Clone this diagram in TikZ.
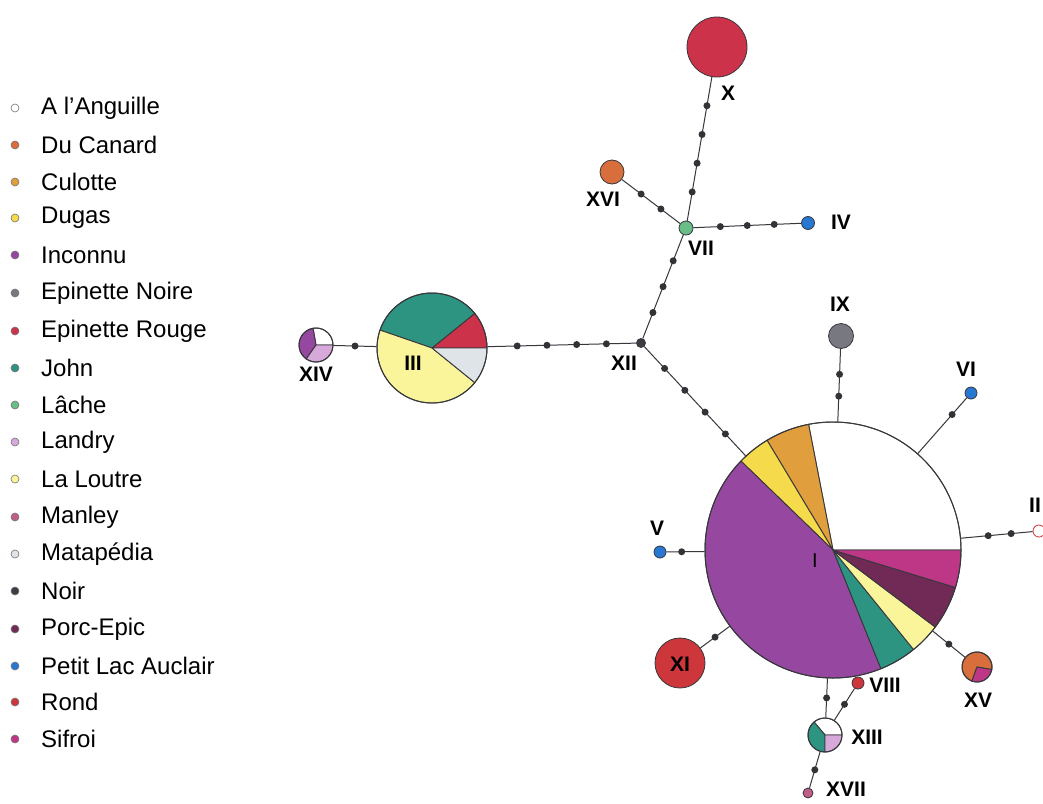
\documentclass[tikz,border=0pt]{standalone}
\usepackage{fontspec}
\setmainfont{Liberation Sans}
\usetikzlibrary{positioning}
\definecolor{lineColor}{RGB}{55,55,60}
\definecolor{dotColor}{RGB}{50,50,55}
\definecolor{cAnguille}{RGB}{255,255,255}
\definecolor{cCanard}{RGB}{215,110,60}
\definecolor{cCulotte}{RGB}{225,158,60}
\definecolor{cDugas}{RGB}{245,218,75}
\definecolor{cInconnu}{RGB}{150,72,160}
\definecolor{cNoire}{RGB}{120,120,128}
\definecolor{cRouge}{RGB}{205,50,75}
\definecolor{cJohn}{RGB}{45,148,130}
\definecolor{cLache}{RGB}{105,190,135}
\definecolor{cLandry}{RGB}{215,168,218}
\definecolor{cLoutre}{RGB}{250,245,155}
\definecolor{cManley}{RGB}{190,95,135}
\definecolor{cMata}{RGB}{222,228,232}
\definecolor{cNoir}{RGB}{60,60,68}
\definecolor{cPorc}{RGB}{112,42,85}
\definecolor{cAuclair}{RGB}{40,120,210}
\definecolor{cRond}{RGB}{205,55,60}
\definecolor{cSifroi}{RGB}{190,55,135}

% one wedge of a pie: centre, radius, start angle, end angle, colour
\newcommand{\pieslice}[5]{\filldraw[#5,draw=lineColor,line width=.9pt,line join=round] (#1) -- ++(#3:#2) arc[start angle=#3,end angle=#4,radius=#2] -- cycle;}

\begin{document}
\begin{tikzpicture}[x=1pt,y=-1pt]
    \tikzstyle{hap} = [circle,draw=lineColor,line width=.8pt,inner sep=0pt]
    \tikzstyle{pie} = [circle,draw=lineColor,line width=1pt,inner sep=0pt]
    \tikzstyle{mv} = [circle,fill=dotColor,inner sep=0pt,minimum size=7pt]
    \tikzstyle{link} = [draw=lineColor,line width=1pt]
    \tikzstyle{lbl} = [inner sep=1pt,font=\fontsize{21}{25}\selectfont\bfseries]
    \tikzstyle{key} = [circle,draw=lineColor!70,line width=.6pt,inner sep=0pt,minimum size=8pt]
    \tikzstyle{keytext} = [anchor=west,inner sep=0pt,font=\fontsize{24}{28}\selectfont]

    \useasboundingbox[fill=white] (0,0) rectangle (1043,803);

    % legend
    \node[key,fill=cAnguille] (kAnguille) at (15,108) {};
    \node[keytext] (tAnguille) at (41,108) {A l'Anguille};
    \node[key,fill=cCanard] (kCanard) at (15,145) {};
    \node[keytext] (tCanard) at (41,145) {Du Canard};
    \node[key,fill=cCulotte] (kCulotte) at (15,182) {};
    \node[keytext] (tCulotte) at (41,182) {Culotte};
    \node[key,fill=cDugas] (kDugas) at (15,218) {};
    \node[keytext] (tDugas) at (41,218) {Dugas};
    \node[key,fill=cInconnu] (kInconnu) at (15,255) {};
    \node[keytext] (tInconnu) at (41,255) {Inconnu};
    \node[key,fill=cNoire] (kNoire) at (15,293) {};
    \node[keytext] (tNoire) at (41,293) {Epinette Noire};
    \node[key,fill=cRouge] (kRouge) at (15,331) {};
    \node[keytext] (tRouge) at (41,331) {Epinette Rouge};
    \node[key,fill=cJohn] (kJohn) at (15,368) {};
    \node[keytext] (tJohn) at (41,368) {John};
    \node[key,fill=cLache] (kLache) at (15,405) {};
    \node[keytext] (tLache) at (41,405) {Lâche};
    \node[key,fill=cLandry] (kLandry) at (15,442) {};
    \node[keytext] (tLandry) at (41,442) {Landry};
    \node[key,fill=cLoutre] (kLoutre) at (15,479) {};
    \node[keytext] (tLoutre) at (41,479) {La Loutre};
    \node[key,fill=cManley] (kManley) at (15,517) {};
    \node[keytext] (tManley) at (41,517) {Manley};
    \node[key,fill=cMata] (kMata) at (15,554) {};
    \node[keytext] (tMata) at (41,554) {Matapédia};
    \node[key,fill=cNoir] (kNoir) at (15,591) {};
    \node[keytext] (tNoir) at (41,591) {Noir};
    \node[key,fill=cPorc] (kPorc) at (15,629) {};
    \node[keytext] (tPorc) at (41,629) {Porc-Epic};
    \node[key,fill=cAuclair] (kAuclair) at (15,666) {};
    \node[keytext] (tAuclair) at (41,666) {Petit Lac Auclair};
    \node[key,fill=cRond] (kRond) at (15,702) {};
    \node[keytext] (tRond) at (41,702) {Rond};
    \node[key,fill=cSifroi] (kSifroi) at (15,739) {};
    \node[keytext] (tSifroi) at (41,739) {Sifroi};

    % pie haplotypes
    \coordinate (cI) at (833,550);
    \pieslice{cI}{128pt}{0}{101}{white}
    \pieslice{cI}{128pt}{101}{121}{cCulotte}
    \pieslice{cI}{128pt}{121}{136}{cDugas}
    \pieslice{cI}{128pt}{136}{292}{cInconnu}
    \pieslice{cI}{128pt}{292}{309}{cJohn}
    \pieslice{cI}{128pt}{309}{323}{cLoutre}
    \pieslice{cI}{128pt}{323}{343}{cPorc}
    \pieslice{cI}{128pt}{343}{360}{cSifroi}
    \node[pie,minimum size=256pt] (I) at (cI) {};

    \coordinate (cIII) at (432,348);
    \pieslice{cIII}{55pt}{0}{39}{cRouge}
    \pieslice{cIII}{55pt}{39}{161}{cJohn}
    \pieslice{cIII}{55pt}{161}{321}{cLoutre}
    \pieslice{cIII}{55pt}{321}{360}{cMata}
    \node[pie,minimum size=110pt] (III) at (cIII) {};

    \coordinate (cXIV) at (316,345);
    \pieslice{cXIV}{17pt}{0}{100}{white}
    \pieslice{cXIV}{17pt}{100}{235}{cInconnu}
    \pieslice{cXIV}{17pt}{235}{360}{cLandry}
    \node[pie,minimum size=34pt] (XIV) at (cXIV) {};

    \coordinate (cXIII) at (825,735);
    \pieslice{cXIII}{17pt}{0}{130}{white}
    \pieslice{cXIII}{17pt}{130}{270}{cJohn}
    \pieslice{cXIII}{17pt}{270}{360}{cLandry}
    \node[pie,minimum size=34pt] (XIII) at (cXIII) {};

    \coordinate (cXV) at (977,667);
    \pieslice{cXV}{15pt}{-10}{250}{cCanard}
    \pieslice{cXV}{15pt}{250}{350}{cSifroi}
    \node[pie,minimum size=30pt] (XV) at (cXV) {};

    % single colour haplotypes
    \node[hap,fill=cRouge,minimum size=60pt] (X) at (717,47) {};
    \node[hap,fill=cCanard,minimum size=24pt] (XVI) at (612,172) {};
    \node[hap,fill=cLache,minimum size=14pt] (VII) at (686,228) {};
    \node[hap,fill=cAuclair,minimum size=13pt] (IV) at (808,223) {};
    \node[hap,fill=cNoir,minimum size=9pt] (XII) at (641,343) {};
    \node[hap,fill=cNoire,minimum size=25pt] (IX) at (841,336) {};
    \node[hap,fill=cAuclair,minimum size=12pt] (VI) at (971,393) {};
    \node[hap,fill=white,draw=cRond,minimum size=12pt] (II) at (1039,531) {};
    \node[hap,fill=cAuclair,minimum size=12pt] (V) at (660,552) {};
    \node[hap,fill=cRond,minimum size=50pt] (XI) at (680,663) {};
    \node[hap,fill=cRond,minimum size=12pt] (VIII) at (858,683) {};
    \node[hap,fill=cManley,minimum size=10pt] (XVII) at (808,793) {};

    % links with mutation steps
    \draw[link] (III) -- node[mv]{} (XIV);
    \draw[link] (III) -- node[mv,pos=.2]{} node[mv,pos=.4]{} node[mv,pos=.6]{} node[mv,pos=.8]{} (XII);
    \draw[link] (XII) -- node[mv,pos=.25]{} node[mv,pos=.5]{} node[mv,pos=.75]{} (VII);
    \draw[link] (XII) -- node[mv,pos=.2]{} node[mv,pos=.4]{} node[mv,pos=.6]{} node[mv,pos=.8]{} (I);
    \draw[link] (VII) -- node[mv,pos=.2]{} node[mv,pos=.4]{} node[mv,pos=.6]{} node[mv,pos=.8]{} (X);
    \draw[link] (VII) -- node[mv,pos=.33]{} node[mv,pos=.67]{} (XVI);
    \draw[link] (VII) -- node[mv,pos=.25]{} node[mv,pos=.5]{} node[mv,pos=.75]{} (IV);
    \draw[link] (IX) -- node[mv,pos=.35]{} node[mv,pos=.65]{} (I);
    \draw[link] (VI) -- node[mv,pos=.3]{} (I);
    \draw[link] (II) -- node[mv,pos=.3]{} node[mv,pos=.62]{} (I);
    \draw[link] (V) -- node[mv,pos=.4]{} (I);
    \draw[link] (XI) -- node[mv]{} (I);
    \draw[link] (XV) -- node[mv]{} (I);
    \draw[link] (I) -- node[mv]{} (XIII);
    \draw[link] (VIII) -- node[mv]{} (XIII);
    \draw[link] (XIII) -- node[mv]{} (XVII);

    % labels
    \node[lbl] (lX) at (728,93) {X};
    \node[lbl] (lXVI) at (603,199) {XVI};
    \node[lbl] (lVII) at (701,248) {VII};
    \node[lbl] (lIV) at (841,222) {IV};
    \node[lbl] (lXII) at (624,363) {XII};
    \node[lbl] (lIX) at (840,304) {IX};
    \node[lbl] (lVI) at (966,369) {VI};
    \node[lbl] (lII) at (1035,505) {II};
    \node[lbl] (lV) at (657,528) {V};
    \node[lbl] (lIII) at (413,363) {III};
    \node[lbl] (lXIV) at (316,374) {XIV};
    \node[lbl] (lXIII) at (867,737) {XIII};
    \node[lbl] (lXV) at (978,700) {XV};
    \node[lbl] (lXI) at (680,664) {XI};
    \node[lbl] (lVIII) at (885,685) {VIII};
    \node[lbl] (lXVII) at (846,789) {XVII};
    \node[lbl,font=\fontsize{20}{24}\selectfont] (lI) at (815,561) {I};
\end{tikzpicture}
\end{document}
